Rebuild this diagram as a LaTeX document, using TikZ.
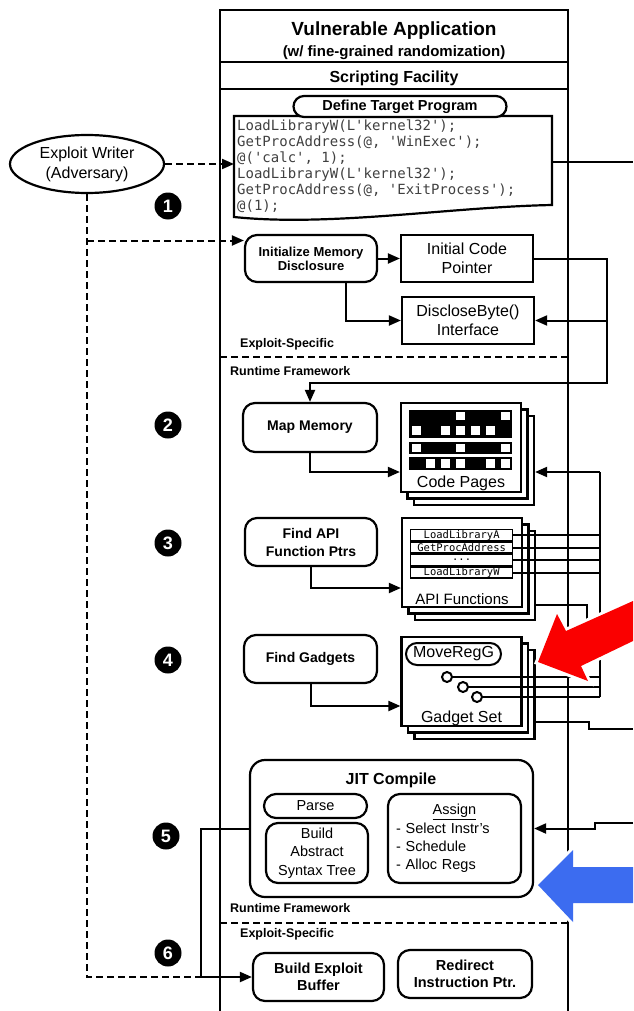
\documentclass[tikz,border=0pt]{standalone}
\usepackage{fontspec}
\setmainfont{Liberation Sans}
\setmonofont{DejaVu Sans Mono}
\usetikzlibrary{arrows.meta,shapes.geometric,shapes.misc,shadows,positioning}
\definecolor{alertred}{RGB}{250,0,0}
\definecolor{alertblue}{RGB}{60,108,240}
\newcommand{\fs}[2]{\fontsize{#1}{#2}\selectfont}
\tikzset{
  appline/.style={line width=2.2pt},
  wire/.style={line width=2pt},
  arr/.style={wire, -{Triangle[length=12pt,width=10pt]}},
  dwire/.style={wire, dash pattern=on 7pt off 4pt},
  darr/.style={dwire, -{Triangle[length=12pt,width=10pt]}},
  box/.style={draw, line width=2.2pt, fill=white, inner sep=1pt, align=center, font=\fs{16}{18.5}},
  stepbox/.style={box, rounded corners=12pt, font=\bfseries\fs{14}{18}},
  pillbox/.style={draw, line width=2.2pt, fill=white, rounded rectangle, inner sep=1pt},
  stackbox/.style={box, minimum width=120pt, minimum height=89pt,
    copy shadow={draw, fill=white, line width=2.2pt, shadow xshift=13pt, shadow yshift=-13pt},
    copy shadow={draw, fill=white, line width=2.2pt, shadow xshift=6.5pt, shadow yshift=-6.5pt}},
  slot/.style={draw, line width=1.5pt, fill=white, minimum width=102pt, minimum height=11pt, inner sep=0pt, font=\ttfamily\fs{10.5}{11}},
  layertag/.style={font=\bfseries\fs{12.5}{14}, anchor=west, inner sep=0pt},
  num/.style={circle, fill=black, text=white, font=\bfseries\fs{18}{18}, minimum size=27pt, inner sep=0pt},
  gadget/.style={circle, draw, wire, fill=white, minimum size=10pt, inner sep=0pt},
}
\begin{document}
\begin{tikzpicture}[x=1pt,y=-1pt]
\useasboundingbox (0,0) rectangle (633,1011);

%% Application frame
\coordinate (appNW) at (220,10);
\coordinate (appSE) at (568,1011);
\draw[appline] (appNW |- appSE) -- (appNW) -| (appSE);
\draw[appline] (220,62) -- (568,62);
\draw[appline] (220,89) -- (568,89);
\node[font=\bfseries\fs{19}{20}] (apptitle) at (394,31) {Vulnerable Application};
\node[font=\bfseries\fs{15}{16}] (appsub) at (394,52.5) {(w/ fine-grained randomization)};
\node[font=\bfseries\fs{16}{17}] (scripting) at (394,78) {Scripting Facility};

%% Target program
\coordinate (codeW) at (234,164);
\coordinate (codeE) at (552,162);
\coordinate (edgeC) at (633,162);
\draw[appline, fill=white] (234,116) -- (552,116) -- (552,205)
  .. controls (450,207) and (330,227) .. (234,217) -- cycle;
\node[font=\ttfamily\fs{14}{16}, align=left, anchor=north west, inner sep=0pt, text=black!75] (code) at (237,120)
  {LoadLibraryW(L'kernel32');\\GetProcAddress(@, 'WinExec');\\@('calc', 1);\\LoadLibraryW(L'kernel32');\\GetProcAddress(@, 'ExitProcess');\\@(1);};
\node[pillbox, minimum width=215pt, minimum height=21pt, font=\bfseries\fs{14.5}{16}] (define) at (400,106.5) {Define Target Program};
\draw[wire] (codeE) -- (edgeC);

%% Exploit writer
\node[ellipse, draw, appline, minimum width=154pt, minimum height=58pt, inner sep=0pt, align=center, font=\fs{16}{20}] (writer) at (87,164) {Exploit Writer\\(Adversary)};
\draw[darr] (writer.east) -- (codeW);
\node[num] (n1) at (168,206) {1};

%% Memory disclosure
\node[stepbox, minimum width=132pt, minimum height=47pt, font=\bfseries\fs{13}{14}] (imd) at (311,258.5) {Initialize Memory\\Disclosure};
\node[box, minimum width=132pt, minimum height=47pt] (icp) at (467,258.5) {Initial Code\\Pointer};
\node[box, minimum width=132pt, minimum height=47pt] (dbi) at (468,320.5) {DiscloseByte()\\Interface};
\node[layertag] (es1) at (240,344) {Exploit-Specific};
\draw[dwire] (220,357) -- (568,357);
\node[layertag] (rf1) at (230,371) {Runtime Framework};

%% Map memory
\node[num] (n2) at (168,425) {2};
\node[stepbox, minimum width=134pt, minimum height=49pt] (mapmem) at (310,427.5) {Map Memory};
\node[stackbox] (pages) at (461,447.5) {};
\begin{scope}[shift={(pages.north west)}]
  \fill (9,8) rectangle (112,36);
  \fill (9,40) rectangle (112,52);
  \fill (9,55) rectangle (112,68);
  \foreach \px in {56,101} \fill[white] (\px,10) rectangle ++(9,8);
  \foreach \px in {12,41,56,71,86} \fill[white] (\px,24) rectangle ++(9,9);
  \foreach \px in {12,56,101} \fill[white] (\px,42) rectangle ++(9,8);
  \foreach \px in {26,41,56,86,101} \fill[white] (\px,57) rectangle ++(9,9);
\end{scope}
\node[font=\fs{16}{18}] (pageslbl) at ([yshift=10pt]pages.south) {Code Pages};

%% API functions
\node[num] (n3) at (168,543) {3};
\node[stepbox, minimum width=132pt, minimum height=48pt] (findapi) at (311,542) {Find API\\Function Ptrs};
\node[stackbox] (api) at (462,562.5) {};
\node[slot, anchor=north west] (s1) at ([shift={(9,12)}]api.north west) {LoadLibraryA};
\node[slot, below=0pt of s1] (s2) {GetProcAddress};
\node[slot, below=0pt of s2] (s3) {...};
\node[slot, below=0pt of s3] (s4) {LoadLibraryW};
\node[font=\fs{15}{17}] (apilbl) at ([yshift=8.5pt]api.south) {API Functions};

%% Gadgets
\node[num] (n4) at (168,660) {4};
\node[stepbox, minimum width=133pt, minimum height=48pt] (findgad) at (310.5,659) {Find Gadgets};
\node[stackbox] (gadset) at (461.5,681.5) {};
\node[pillbox, line width=2pt, minimum width=97pt, minimum height=22pt, font=\fs{16}{18}] (movereg) at (453.5,654) {MoveRegG};
\node[gadget] (g1) at (447,677) {};
\node[gadget] (g2) at (463,687) {};
\node[gadget] (g3) at (477,697) {};
\node[font=\fs{16}{18}] (gadlbl) at ([yshift=9pt]gadset.south) {Gadget Set};

%% JIT compile
\node[num] (n5) at (166,836) {5};
\node[draw, appline, fill=white, rounded corners=15pt, minimum width=283pt, minimum height=137pt] (jit) at (391.5,828.5) {};
\node[font=\bfseries\fs{16}{18}] (jitlbl) at (391,780) {JIT Compile};
\node[pillbox, minimum width=105pt, minimum height=24pt, font=\fs{14.5}{16}] (parse) at (315.5,806) {Parse};
\node[box, rounded corners=12pt, minimum width=102pt, minimum height=60pt, font=\fs{14.5}{18.5}] (bast) at (317,853) {Build\\Abstract\\Syntax Tree};
\node[box, rounded corners=12pt, minimum width=133pt, minimum height=89pt, font=\fs{14.5}{18.3}, align=left, text width=117pt] (assign) at (454.5,838.5)
  {\makebox[117pt]{\underline{Assign}}\\- Select Instr's\\- Schedule\\- Alloc Regs};
\node[layertag] (rf2) at (230,908) {Runtime Framework};
\draw[dwire] (220,923) -- (568,923);
\node[layertag] (es2) at (240,934) {Exploit-Specific};

%% Exploit buffer
\node[num] (n6) at (168,953) {6};
\node[stepbox, minimum width=131pt, minimum height=48pt, font=\bfseries\fs{14.5}{17.5}] (beb) at (318.5,977) {Build Exploit\\Buffer};
\node[stepbox, minimum width=134pt, minimum height=48pt, font=\bfseries\fs{14.5}{17.5}] (rip) at (465,974) {Redirect\\Instruction Ptr.};

%% Connectors
\coordinate (imdin) at ([yshift=18pt]imd.west);
\coordinate (busA) at (607,383);
\coordinate (busB) at (600,472);
\coordinate (j6) at (201,977);
\coordinate (edgeG) at (633,729);
\coordinate (edgeJ) at (633,823);
\draw[darr] (writer.south |- imdin) -- (imdin);
\draw[dwire] (writer.south) |- (j6);
\draw[arr] (imd.east) -- (icp.west);
\draw[arr] ([xshift=35pt]imd.south) |- (dbi.west);
\draw[arr] (icp.east) -| (busA) -| (mapmem.north);
\draw[arr] (busA |- dbi.east) -- (dbi.east);
\draw[arr] (mapmem.south) |- ([yshift=-24.5pt]pages.west);
\draw[arr] (busB) -- ([xshift=13pt,yshift=-24.5pt]pages.east);
\draw[wire] (busB) -- (busB |- g3.east);
\draw[arr] (findapi.south) |- ([yshift=-25.5pt]api.west);
\foreach \s in {s1,s2,s3,s4} \draw[wire] (\s.east) -- (\s.east -| busB);
\draw[wire] ([xshift=12pt,yshift=-42.5pt]api.east) -- ++(52,0) -- ++(0,30);
\draw[arr] (findgad.south) |- ([yshift=-24.5pt]gadset.west);
\foreach \g in {g1,g2,g3} \draw[wire] (\g.east) -- (\g.east -| busB);
\draw[wire] ([xshift=12pt,yshift=-40.5pt]gadset.east) -- ++(54,0) -- ++(0,7) -- (edgeG);
\draw[arr] (edgeJ) -- ++(-38,0) -- ++(0,5.5) -- (jit.east);
\draw[wire] (jit.west) -| (j6);
\draw[arr] (j6) -- (beb.west);

%% Highlight arrows
\path[fill=alertred, preaction={draw=white, line width=6pt}] (538,662) -- (557,614) -- (566,631) -- (633,601) -- (633,641) -- (581,666) -- (588,681) -- cycle;
\path[fill=alertblue, preaction={draw=white, line width=6pt}] (538,885) -- (573,850) -- (573,867) -- (633,867) -- (633,903) -- (573,903) -- (573,922) -- cycle;
\end{tikzpicture}
\end{document}
